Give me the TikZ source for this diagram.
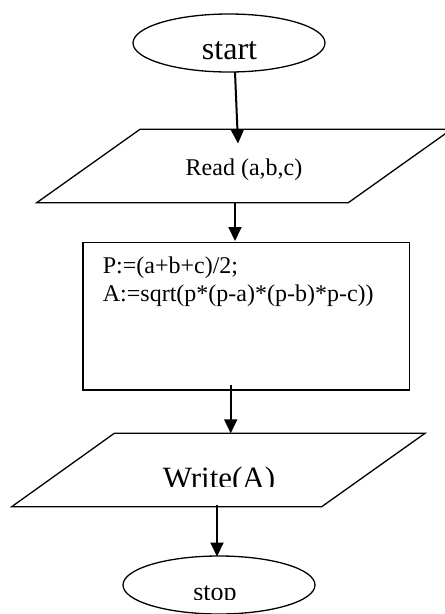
\documentclass[tikz,border=0pt]{standalone}
\usepackage{fontspec}
\setmainfont{Liberation Serif}
\usetikzlibrary{arrows.meta,shapes.geometric}
\begin{document}
\begin{tikzpicture}[x=1pt,y=-1pt,
  shapeline/.style={draw=black,line width=1.3pt},
  flowarrow/.style={draw=black,line width=2pt,-{Triangle[length=14pt,width=13pt]}},
  txt/.style={inner sep=0pt,anchor=base,text=black}]
\useasboundingbox[fill=white] (0,0) rectangle (445,614);
% start
\node[shapeline,ellipse,minimum width=192pt,minimum height=58pt,inner sep=0pt] (start) at (229,43) {};
\node[txt,font=\fontsize{32}{36}\selectfont] (starttxt) at (229.5,59) {start};
% read parallelogram
\coordinate (r1) at (140,129.3);
\coordinate (r2) at (451.5,129.3);
\coordinate (r3) at (348.3,202.7);
\coordinate (r4) at (36.7,202.7);
\draw[shapeline,line join=miter] (r1) -- (r2) -- (r3) -- (r4) -- cycle;
\node[txt,font=\fontsize{24}{28}\selectfont] (read) at (244,175) {Read (a,b,c)};
% process box
\node[shapeline,rectangle,minimum width=326.7pt,minimum height=147.6pt,inner sep=0pt,anchor=north west] (proc) at (82.3,241.7) {};
\node[inner sep=0pt,anchor=base west,font=\fontsize{24}{28}\selectfont] (p1) at (102.7,273.3) {P:=(a+b+c)/2;};
\node[inner sep=0pt,anchor=base west,font=\fontsize{24}{28}\selectfont] (p2) at (102.7,301.7) {A:=sqrt(p*(p-a)*(p-b)*p-c))};
% write parallelogram
\coordinate (w1) at (114.3,433.3);
\coordinate (w2) at (425,433.3);
\coordinate (w3) at (321.7,506.7);
\coordinate (w4) at (11.7,506.7);
\draw[shapeline,line join=miter] (w1) -- (w2) -- (w3) -- (w4) -- cycle;
\begin{scope}
\clip (100,450) rectangle (340,486.8);
\node[txt,font=\fontsize{31}{36}\selectfont] (write) at (219,488.4) {Write(A)};
\end{scope}
% stop
\node[shapeline,ellipse,minimum width=192pt,minimum height=58pt,inner sep=0pt] (stop) at (219,585) {};
\begin{scope}
\clip (150,570) rectangle (290,599.8);
\node[txt,font=\fontsize{26}{30}\selectfont] (stoptxt) at (215,600.3) {stop};
\end{scope}
% connectors
\coordinate (a1s) at (235,72);
\coordinate (a1e) at (238,143.5);
\coordinate (a2s) at (235,202);
\coordinate (a2e) at (235,241);
\coordinate (a3s) at (230.7,385);
\coordinate (a3e) at (230.7,433.3);
\coordinate (a4s) at (217,505);
\coordinate (a4e) at (217,556.5);
\draw[flowarrow] (a1s) -- (a1e);
\draw[flowarrow] (a2s) -- (a2e);
\draw[flowarrow] (a3s) -- (a3e);
\draw[flowarrow] (a4s) -- (a4e);
\end{tikzpicture}
\end{document}
